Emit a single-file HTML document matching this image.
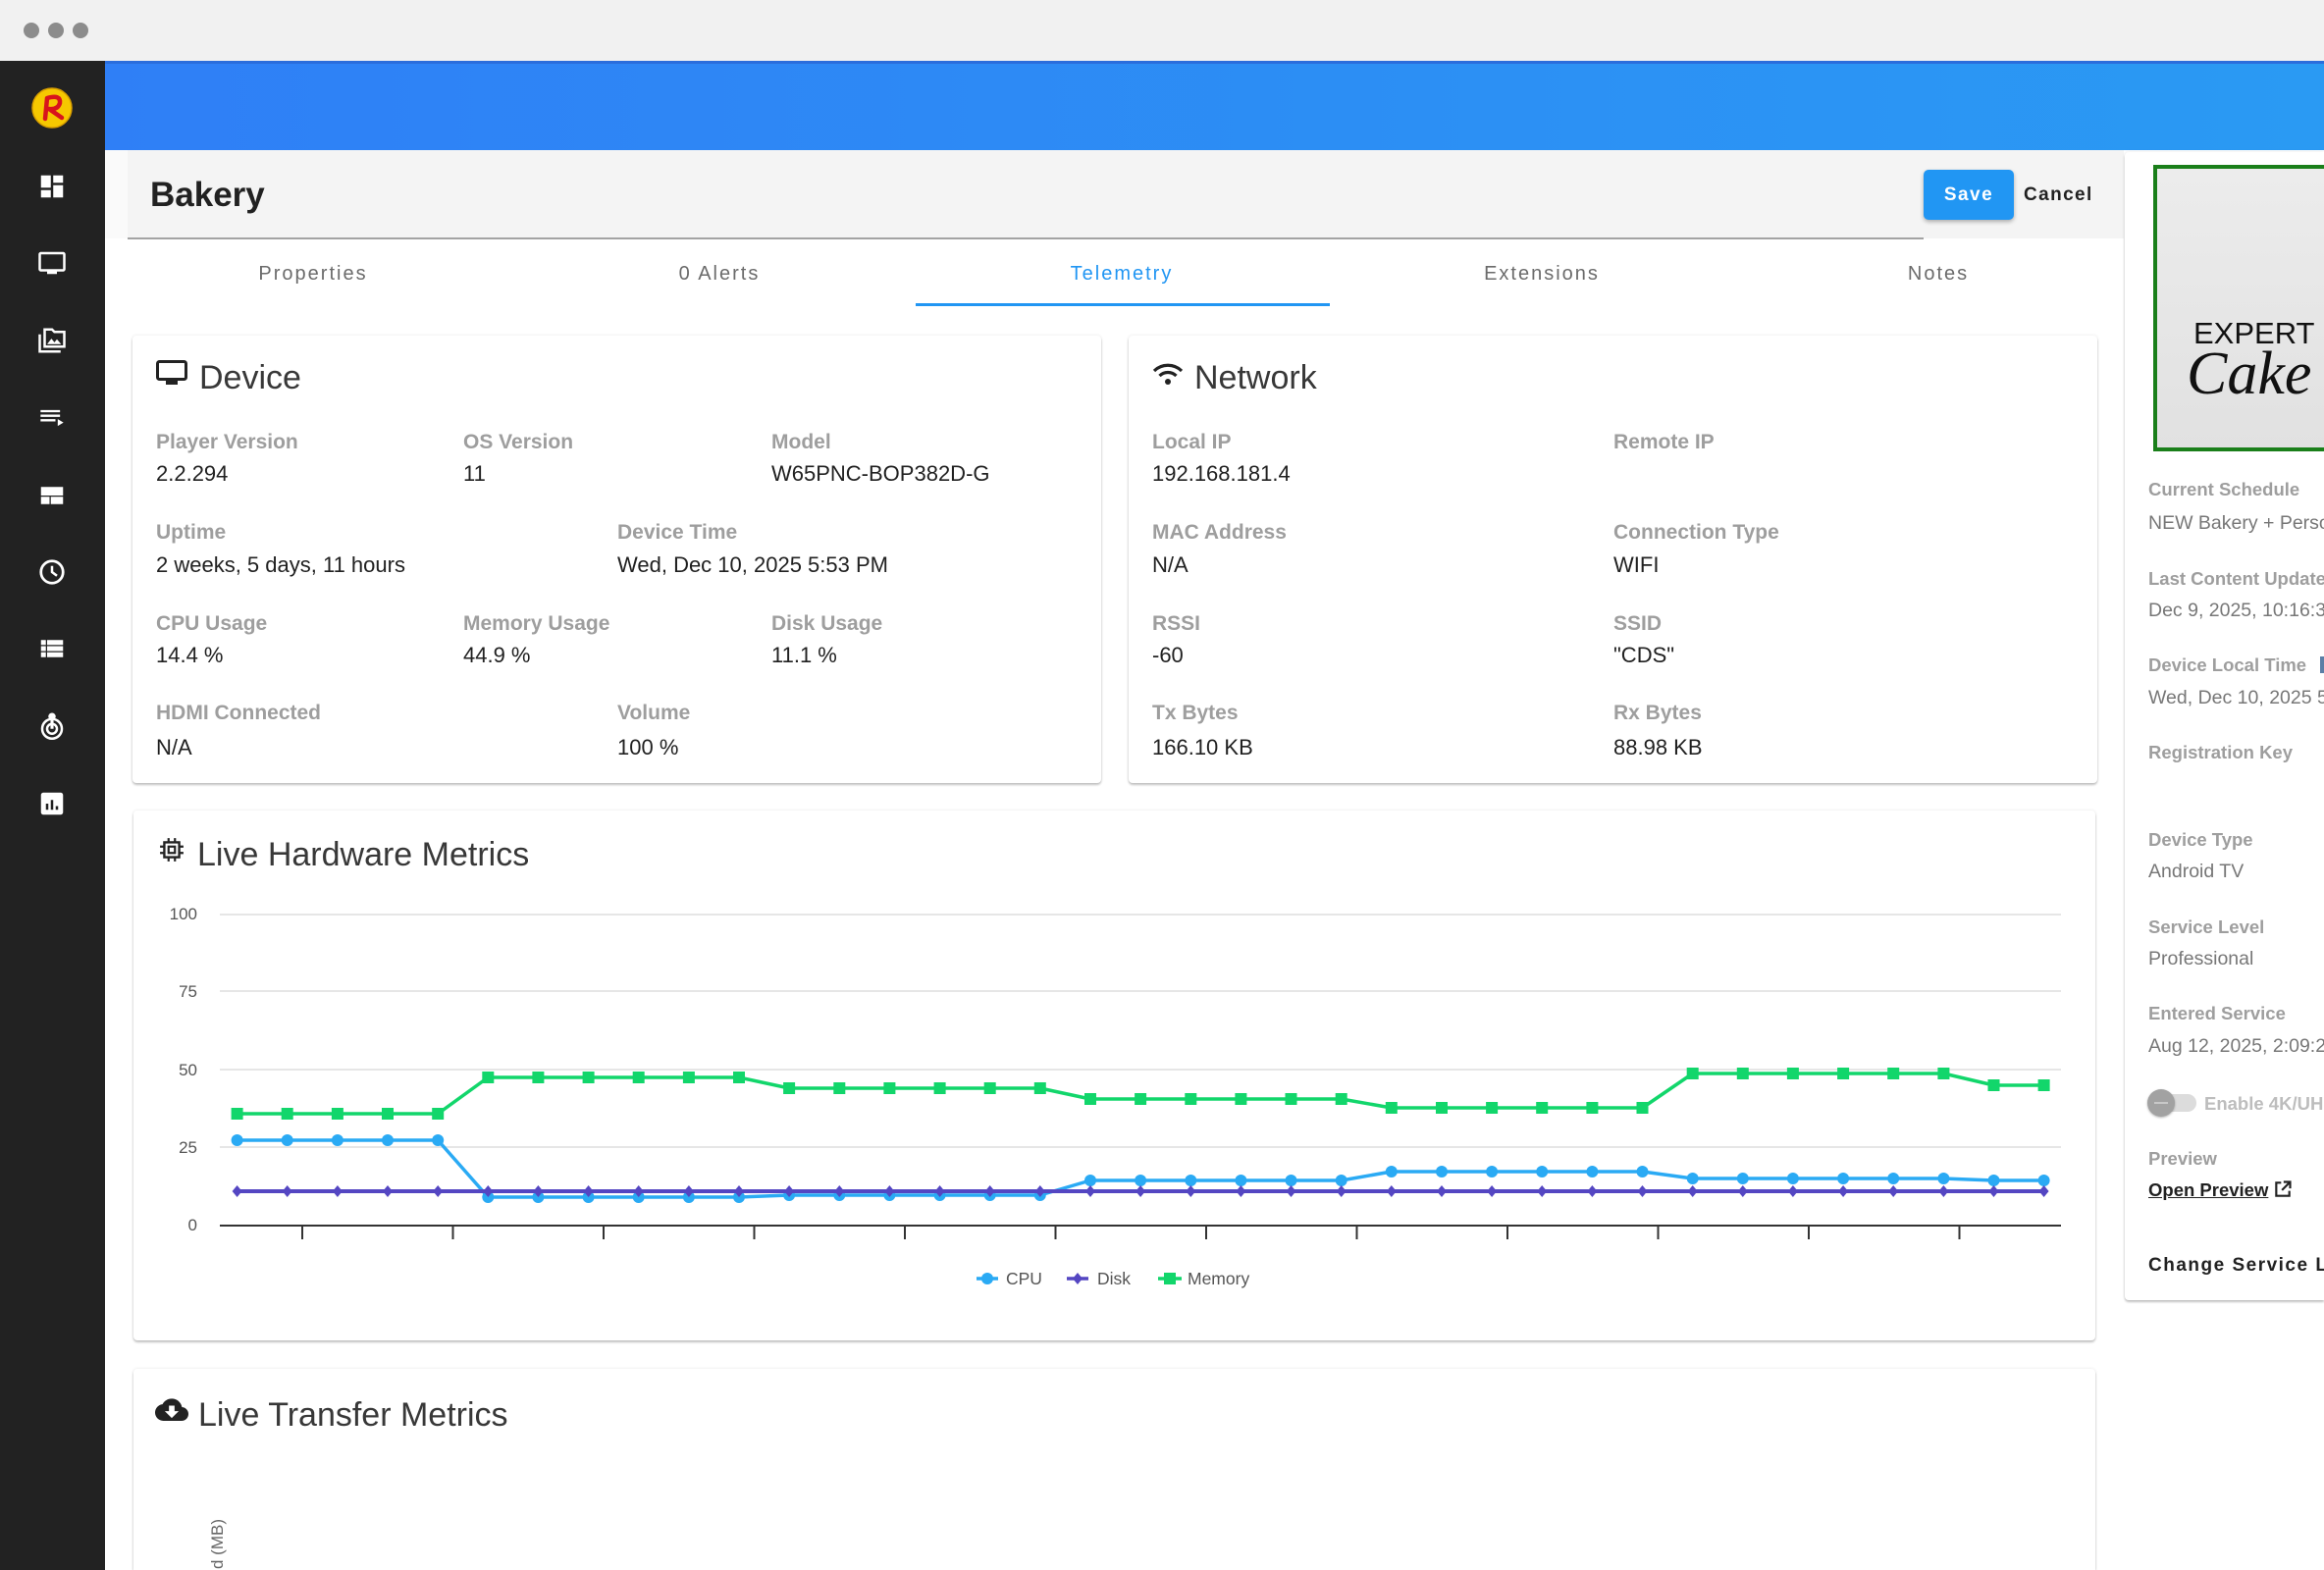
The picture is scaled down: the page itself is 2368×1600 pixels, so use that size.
<!DOCTYPE html>
<html><head><meta charset="utf-8">
<style>
*{margin:0;padding:0;box-sizing:border-box}
html,body{width:2368px;height:1600px;overflow:hidden;background:#fff;font-family:"Liberation Sans",Arial,sans-serif}
#root{position:relative;width:2368px;height:1600px;overflow:hidden;background:#fff}
.a{position:absolute;white-space:nowrap}
.card{position:absolute;background:#fff;border-radius:4px;box-shadow:0 2px 2px rgba(0,0,0,.22),0 0 3px rgba(0,0,0,.10)}
.lbl{position:absolute;white-space:nowrap;font-weight:bold;font-size:21px;line-height:21px;color:#9e9e9e}
.val{position:absolute;white-space:nowrap;font-size:22px;line-height:22px;color:#212121}
.ttl{position:absolute;white-space:nowrap;font-size:34px;line-height:34px;color:#383838}
.tab{position:absolute;width:300px;text-align:center;font-size:20px;line-height:20px;letter-spacing:2px;color:#6b6b6b}
.rl{position:absolute;white-space:nowrap;font-weight:bold;font-size:18.5px;line-height:19px;color:#9e9e9e;left:2189px}
.rv{position:absolute;white-space:nowrap;font-size:19.5px;line-height:20px;color:#777;left:2189px}
</style></head><body>
<div id="root">

<!-- browser bar -->
<div class="a" style="left:0;top:0;width:2368px;height:62px;background:#f1f1f1"></div>
<div class="a" style="left:24px;top:23px;width:16px;height:16px;border-radius:50%;background:#8c8c8c"></div>
<div class="a" style="left:49px;top:23px;width:16px;height:16px;border-radius:50%;background:#8c8c8c"></div>
<div class="a" style="left:74px;top:23px;width:16px;height:16px;border-radius:50%;background:#8c8c8c"></div>

<!-- sidebar -->
<div class="a" style="left:0;top:62px;width:107px;height:1538px;background:#222"></div>
<svg class="a" style="left:31px;top:88px" width="44" height="44" viewBox="0 0 44 44">
  <circle cx="22" cy="22" r="20" fill="#f6c800" stroke="#d89e00" stroke-width="1.5"/>
  <path d="M15 33 L17 12 Q31 8 30 17 Q28 24 19 23 L32 32" stroke="#d8141c" stroke-width="4.5" fill="none" stroke-linecap="round" stroke-linejoin="round"/>
</svg>
<svg class="a" style="left:38px;top:175px" width="30" height="30" viewBox="0 0 24 24"><path fill="#fff" d="M3 13h8V3H3v10zm0 8h8v-6H3v6zm10 0h8V11h-8v10zm0-18v6h8V3h-8z"/></svg>
<svg class="a" style="left:38px;top:253px" width="30" height="30" viewBox="0 0 24 24"><path fill="#fff" d="M21 3H3c-1.1 0-2 .9-2 2v12c0 1.1.9 2 2 2h5v2h8v-2h5c1.1 0 2-.9 2-2V5c0-1.1-.9-2-2-2zm0 14H3V5h18v12z"/></svg>
<svg class="a" style="left:38px;top:332px" width="30" height="30" viewBox="0 0 24 24"><path fill="none" stroke="#fff" stroke-width="2" d="M2 7v14h17"/><path fill="none" stroke="#fff" stroke-width="2" d="M6 3h6l2 2h8v12H6z"/><path fill="#fff" d="M8 15l3.5-4.5 2.5 3 2-2.5 3.5 4z"/></svg>
<svg class="a" style="left:39px;top:412px" width="28" height="28" viewBox="0 0 24 24"><path fill="#fff" d="M19 9H2v2h17V9zm0-4H2v2h17V5zM2 15h13v-2H2v2zm15-2v6l5-3-5-3z"/></svg>
<svg class="a" style="left:38px;top:490px" width="30" height="30" viewBox="0 0 24 24"><path fill="#fff" d="M3 5h18v7H3zM3 13h7v6H3zM11 13h10v6H11z"/></svg>
<svg class="a" style="left:38px;top:568px" width="30" height="30" viewBox="0 0 24 24"><circle cx="12" cy="12" r="9" fill="none" stroke="#fff" stroke-width="2.2"/><path d="M12 7v5l4 3" fill="none" stroke="#fff" stroke-width="2"/></svg>
<svg class="a" style="left:38px;top:646px" width="30" height="30" viewBox="0 0 24 24"><path fill="#fff" d="M3 14h4v-4H3v4zm0 5h4v-4H3v4zM3 9h4V5H3v4zm5 5h13v-4H8v4zm0 5h13v-4H8v4zM8 5v4h13V5H8z"/></svg>
<svg class="a" style="left:38px;top:724px" width="30" height="30" viewBox="0 0 24 24"><circle cx="12" cy="15" r="8" fill="none" stroke="#fff" stroke-width="2"/><circle cx="12" cy="15" r="4" fill="none" stroke="#fff" stroke-width="2"/><circle cx="12" cy="5" r="3" fill="#fff"/><path d="M12 6v9" stroke="#fff" stroke-width="2.5"/></svg>
<svg class="a" style="left:38px;top:804px" width="30" height="30" viewBox="0 0 24 24"><path fill="#fff" d="M19 3H5c-1.1 0-2 .9-2 2v14c0 1.1.9 2 2 2h14c1.1 0 2-.9 2-2V5c0-1.1-.9-2-2-2zM9 17H7v-5h2v5zm4 0h-2V9h2v8zm4 0h-2v-3h2v3z"/></svg>

<!-- blue header -->
<div class="a" style="left:107px;top:62px;width:2261px;height:91px;background:linear-gradient(to right,#2f7ff6,#2a9af3);border-top:3px solid #2a6ddc"></div>

<!-- page header -->
<div class="a" style="left:107px;top:153px;width:23px;height:90px;background:#fafafa"></div>
<div class="a" style="left:130px;top:153px;width:2034px;height:90px;background:#f4f4f4"></div>
<div class="a" style="left:130px;top:242px;width:1830px;height:2px;background:#a3a3a3"></div>
<div class="a" style="left:153px;top:181px;font-size:35px;line-height:35px;font-weight:bold;color:#212121">Bakery</div>
<div class="a" style="left:1960px;top:173px;width:92px;height:51px;background:#2196f3;border-radius:5px;box-shadow:0 2px 4px rgba(0,0,0,.3);color:#fff;font-weight:bold;font-size:19px;line-height:51px;letter-spacing:1.5px;text-align:center">Save</div>
<div class="a" style="left:2062px;top:189px;font-size:19px;line-height:19px;font-weight:bold;letter-spacing:1.4px;color:#212121">Cancel</div>

<!-- tabs -->
<div class="tab" style="left:169px;top:269px">Properties</div>
<div class="tab" style="left:583px;top:269px">0 Alerts</div>
<div class="tab" style="left:993px;top:269px;color:#2196f3">Telemetry</div>
<div class="tab" style="left:1421px;top:269px">Extensions</div>
<div class="tab" style="left:1825px;top:269px">Notes</div>
<div class="a" style="left:933px;top:309px;width:422px;height:3px;background:#2196f3"></div>

<!-- Device card -->
<div class="card" style="left:135px;top:342px;width:987px;height:456px"></div>
<svg class="a" style="left:159px;top:367px" width="32" height="27" viewBox="0 0 32 27"><rect x="1.5" y="1.5" width="29" height="18" rx="2" fill="none" stroke="#222" stroke-width="3"/><rect x="10" y="20" width="12" height="5" fill="#222"/></svg>
<div class="ttl" style="left:203px;top:368px">Device</div>
<div class="lbl" style="left:159px;top:440px">Player Version</div>
<div class="val" style="left:159px;top:472px">2.2.294</div>
<div class="lbl" style="left:472px;top:440px">OS Version</div>
<div class="val" style="left:472px;top:472px">11</div>
<div class="lbl" style="left:786px;top:440px">Model</div>
<div class="val" style="left:786px;top:472px">W65PNC-BOP382D-G</div>
<div class="lbl" style="left:159px;top:532px">Uptime</div>
<div class="val" style="left:159px;top:565px">2 weeks, 5 days, 11 hours</div>
<div class="lbl" style="left:629px;top:532px">Device Time</div>
<div class="val" style="left:629px;top:565px">Wed, Dec 10, 2025 5:53 PM</div>
<div class="lbl" style="left:159px;top:625px">CPU Usage</div>
<div class="val" style="left:159px;top:657px">14.4 %</div>
<div class="lbl" style="left:472px;top:625px">Memory Usage</div>
<div class="val" style="left:472px;top:657px">44.9 %</div>
<div class="lbl" style="left:786px;top:625px">Disk Usage</div>
<div class="val" style="left:786px;top:657px">11.1 %</div>
<div class="lbl" style="left:159px;top:716px">HDMI Connected</div>
<div class="val" style="left:159px;top:751px">N/A</div>
<div class="lbl" style="left:629px;top:716px">Volume</div>
<div class="val" style="left:629px;top:751px">100 %</div>

<!-- Network card -->
<div class="card" style="left:1150px;top:342px;width:987px;height:456px"></div>
<svg class="a" style="left:1174px;top:369px" width="32" height="24" viewBox="0 0 32 24"><path d="M2 9 A20 20 0 0 1 30 9" fill="none" stroke="#222" stroke-width="3.2"/><path d="M7.5 14 A12 12 0 0 1 24.5 14" fill="none" stroke="#222" stroke-width="3.2"/><circle cx="16" cy="20" r="3" fill="#222"/></svg>
<div class="ttl" style="left:1217px;top:368px">Network</div>
<div class="lbl" style="left:1174px;top:440px">Local IP</div>
<div class="val" style="left:1174px;top:472px">192.168.181.4</div>
<div class="lbl" style="left:1644px;top:440px">Remote IP</div>
<div class="lbl" style="left:1174px;top:532px">MAC Address</div>
<div class="val" style="left:1174px;top:565px">N/A</div>
<div class="lbl" style="left:1644px;top:532px">Connection Type</div>
<div class="val" style="left:1644px;top:565px">WIFI</div>
<div class="lbl" style="left:1174px;top:625px">RSSI</div>
<div class="val" style="left:1174px;top:657px">-60</div>
<div class="lbl" style="left:1644px;top:625px">SSID</div>
<div class="val" style="left:1644px;top:657px">"CDS"</div>
<div class="lbl" style="left:1174px;top:716px">Tx Bytes</div>
<div class="val" style="left:1174px;top:751px">166.10 KB</div>
<div class="lbl" style="left:1644px;top:716px">Rx Bytes</div>
<div class="val" style="left:1644px;top:751px">88.98 KB</div>

<!-- Hardware card -->
<div class="card" style="left:136px;top:826px;width:1999px;height:540px"></div>
<svg class="a" style="left:162px;top:853px" width="26" height="26" viewBox="0 0 24 24"><rect x="5" y="5" width="14" height="14" fill="none" stroke="#222" stroke-width="2.2"/><rect x="9" y="9" width="6" height="6" fill="none" stroke="#222" stroke-width="2"/><path d="M9 1v4M15 1v4M9 19v4M15 19v4M1 9h4M1 15h4M19 9h4M19 15h4" stroke="#222" stroke-width="2"/></svg>
<div class="ttl" style="left:201px;top:854px">Live Hardware Metrics</div>

<!-- Transfer card -->
<div class="card" style="left:136px;top:1395px;width:1999px;height:205px;border-bottom-left-radius:0;border-bottom-right-radius:0"></div>
<svg class="a" style="left:158px;top:1424px" width="34" height="24" viewBox="0 3 24 17" preserveAspectRatio="none"><path fill="#222" d="M19.35 10.04C18.67 6.59 15.64 4 12 4 9.11 4 6.6 5.64 5.35 8.04 2.34 8.36 0 10.91 0 14c0 3.31 2.69 6 6 6h13c2.76 0 5-2.24 5-5 0-2.64-2.05-4.78-4.65-4.96zM17 13l-5 5-5-5h3V9h4v4h3z"/></svg>
<div class="ttl" style="left:202px;top:1425px">Live Transfer Metrics</div>

<!-- Right panel -->
<div class="card" style="left:2165px;top:155px;width:203px;height:1170px;border-top-right-radius:0;border-bottom-right-radius:0"></div>
<div class="a" style="left:2194px;top:168px;width:174px;height:292px;overflow:hidden">
  <div class="a" style="left:0;top:0;width:200px;height:292px;border:4px solid #1a7f1a;background:linear-gradient(#ececec,#e1e1e1);overflow:hidden">
    <div class="a" style="left:37px;top:152px;font-size:31px;line-height:31px;color:#111">EXPERT</div>
    <div class="a" style="left:30px;top:178px;font-family:'Liberation Serif',serif;font-style:italic;font-size:62px;line-height:62px;color:#111">Cake decorating</div>
  </div>
</div>
<div class="rl" style="top:489px">Current Schedule</div>
<div class="rv" style="top:523px">NEW Bakery + Personalized</div>
<div class="rl" style="top:580px">Last Content Update</div>
<div class="rv" style="top:612px">Dec 9, 2025, 10:16:38 AM</div>
<div class="rl" style="top:668px">Device Local Time</div>
<div class="a" style="left:2364px;top:669px;width:4px;height:17px;background:#5b7fa6"></div>
<div class="rv" style="top:701px">Wed, Dec 10, 2025 5:53 PM</div>
<div class="rl" style="top:757px">Registration Key</div>
<div class="rl" style="top:846px">Device Type</div>
<div class="rv" style="top:878px">Android TV</div>
<div class="rl" style="top:935px">Service Level</div>
<div class="rv" style="top:967px">Professional</div>
<div class="rl" style="top:1023px">Entered Service</div>
<div class="rv" style="top:1056px">Aug 12, 2025, 2:09:21 PM</div>
<div class="a" style="left:2192px;top:1115px;width:46px;height:18px;border-radius:9px;background:#dcdcdc"></div>
<div class="a" style="left:2188px;top:1110px;width:28px;height:28px;border-radius:50%;background:#a2a2a2;box-shadow:0 1px 2px rgba(0,0,0,.3)"></div>
<div class="a" style="left:2195px;top:1123px;width:14px;height:2px;background:#c8c8c8"></div>
<div class="rl" style="left:2246px;top:1115px;color:#bdbdbd">Enable 4K/UHD</div>
<div class="rl" style="top:1171px">Preview</div>
<div class="a" style="left:2189px;top:1203px;font-size:18.5px;line-height:19px;font-weight:bold;color:#212121;text-decoration:underline">Open Preview</div>
<svg class="a" style="left:2316px;top:1202px" width="20" height="20" viewBox="0 0 24 24"><path d="M10 4H4v16h16v-6" fill="none" stroke="#212121" stroke-width="2.6"/><path d="M13 3h8v8M21 3L11 13" fill="none" stroke="#212121" stroke-width="2.6"/></svg>
<div class="a" style="left:2189px;top:1280px;font-size:19px;line-height:19px;font-weight:bold;letter-spacing:1.5px;color:#222">Change Service Level</div>

<!-- Charts overlay -->
<svg class="a" style="left:0;top:0" width="2368" height="1600" viewBox="0 0 2368 1600">
  <defs>
    <marker id="mc" markerUnits="userSpaceOnUse" markerWidth="14" markerHeight="14" refX="7" refY="7" overflow="visible"><circle cx="7" cy="7" r="6" fill="#2aaaf4"/></marker>
    <marker id="md" markerUnits="userSpaceOnUse" markerWidth="14" markerHeight="14" refX="7" refY="7" overflow="visible"><path d="M7 1L12 7L7 13L2 7Z" fill="#5446c2"/></marker>
    <marker id="mm" markerUnits="userSpaceOnUse" markerWidth="14" markerHeight="14" refX="7" refY="7" overflow="visible"><rect x="1" y="1" width="12" height="12" fill="#12d66b"/></marker>
  </defs>
  <g stroke="#e6e6e6" stroke-width="2">
    <line x1="224" y1="932" x2="2100" y2="932"/>
    <line x1="224" y1="1010" x2="2100" y2="1010"/>
    <line x1="224" y1="1090" x2="2100" y2="1090"/>
    <line x1="224" y1="1169" x2="2100" y2="1169"/>
  </g>
  <line x1="224" y1="1249" x2="2100" y2="1249" stroke="#333" stroke-width="2"/>
  <g stroke="#333" stroke-width="2">
    <line x1="308" y1="1249" x2="308" y2="1263"/><line x1="461.5" y1="1249" x2="461.5" y2="1263"/>
    <line x1="615" y1="1249" x2="615" y2="1263"/><line x1="768.5" y1="1249" x2="768.5" y2="1263"/>
    <line x1="922" y1="1249" x2="922" y2="1263"/><line x1="1075.5" y1="1249" x2="1075.5" y2="1263"/>
    <line x1="1229" y1="1249" x2="1229" y2="1263"/><line x1="1382.5" y1="1249" x2="1382.5" y2="1263"/>
    <line x1="1536" y1="1249" x2="1536" y2="1263"/><line x1="1689.5" y1="1249" x2="1689.5" y2="1263"/>
    <line x1="1843" y1="1249" x2="1843" y2="1263"/><line x1="1996.5" y1="1249" x2="1996.5" y2="1263"/>
  </g>
  <g font-family="Liberation Sans, Arial, sans-serif" font-size="17" fill="#555" text-anchor="end">
    <text x="201" y="937">100</text>
    <text x="201" y="1016">75</text>
    <text x="201" y="1096">50</text>
    <text x="201" y="1175">25</text>
    <text x="201" y="1254">0</text>
  </g>
  <polyline fill="none" stroke="#2aaaf4" stroke-width="3.5" stroke-linejoin="round" marker-start="url(#mc)" marker-mid="url(#mc)" marker-end="url(#mc)"
    points="241.6,1162 292.7,1162 343.9,1162 395,1162 446.2,1162 497.3,1220 548.4,1220 599.6,1220 650.7,1220 701.9,1220 753,1220 804.1,1218 855.3,1218 906.4,1218 957.6,1218 1008.7,1218 1059.8,1218 1111,1203 1162.1,1203 1213.3,1203 1264.4,1203 1315.5,1203 1366.7,1203 1417.8,1194 1469,1194 1520.1,1194 1571.2,1194 1622.4,1194 1673.5,1194 1724.7,1201 1775.8,1201 1826.9,1201 1878.1,1201 1929.2,1201 1980.4,1201 2031.5,1203 2082.6,1203"/>
  <polyline fill="none" stroke="#5446c2" stroke-width="4" marker-start="url(#md)" marker-mid="url(#md)" marker-end="url(#md)"
    points="241.6,1214 292.7,1214 343.9,1214 395,1214 446.2,1214 497.3,1214 548.4,1214 599.6,1214 650.7,1214 701.9,1214 753,1214 804.1,1214 855.3,1214 906.4,1214 957.6,1214 1008.7,1214 1059.8,1214 1111,1214 1162.1,1214 1213.3,1214 1264.4,1214 1315.5,1214 1366.7,1214 1417.8,1214 1469,1214 1520.1,1214 1571.2,1214 1622.4,1214 1673.5,1214 1724.7,1214 1775.8,1214 1826.9,1214 1878.1,1214 1929.2,1214 1980.4,1214 2031.5,1214 2082.6,1214"/>
  <polyline fill="none" stroke="#12d66b" stroke-width="3.5" stroke-linejoin="round" marker-start="url(#mm)" marker-mid="url(#mm)" marker-end="url(#mm)"
    points="241.6,1135 292.7,1135 343.9,1135 395,1135 446.2,1135 497.3,1098 548.4,1098 599.6,1098 650.7,1098 701.9,1098 753,1098 804.1,1109 855.3,1109 906.4,1109 957.6,1109 1008.7,1109 1059.8,1109 1111,1120 1162.1,1120 1213.3,1120 1264.4,1120 1315.5,1120 1366.7,1120 1417.8,1129 1469,1129 1520.1,1129 1571.2,1129 1622.4,1129 1673.5,1129 1724.7,1094 1775.8,1094 1826.9,1094 1878.1,1094 1929.2,1094 1980.4,1094 2031.5,1106 2082.6,1106"/>
  <!-- legend -->
  <line x1="995" y1="1303" x2="1017" y2="1303" stroke="#2aaaf4" stroke-width="3.5"/>
  <circle cx="1006" cy="1303" r="6" fill="#2aaaf4"/>
  <line x1="1087" y1="1303" x2="1109" y2="1303" stroke="#5446c2" stroke-width="3.5"/>
  <path d="M1098 1297L1103 1303L1098 1309L1093 1303Z" fill="#5446c2"/>
  <line x1="1180" y1="1303" x2="1204" y2="1303" stroke="#12d66b" stroke-width="3.5"/>
  <rect x="1186" y="1297" width="12" height="12" fill="#12d66b"/>
  <g font-family="Liberation Sans, Arial, sans-serif" font-size="17.5" fill="#555">
    <text x="1025" y="1309">CPU</text>
    <text x="1118" y="1309">Disk</text>
    <text x="1210" y="1309">Memory</text>
  </g>
  <text transform="translate(227,1548) rotate(-90)" text-anchor="end" font-family="Liberation Sans, Arial, sans-serif" font-size="17" fill="#666">d (MB)</text>
</svg>
</div>
</body></html>
